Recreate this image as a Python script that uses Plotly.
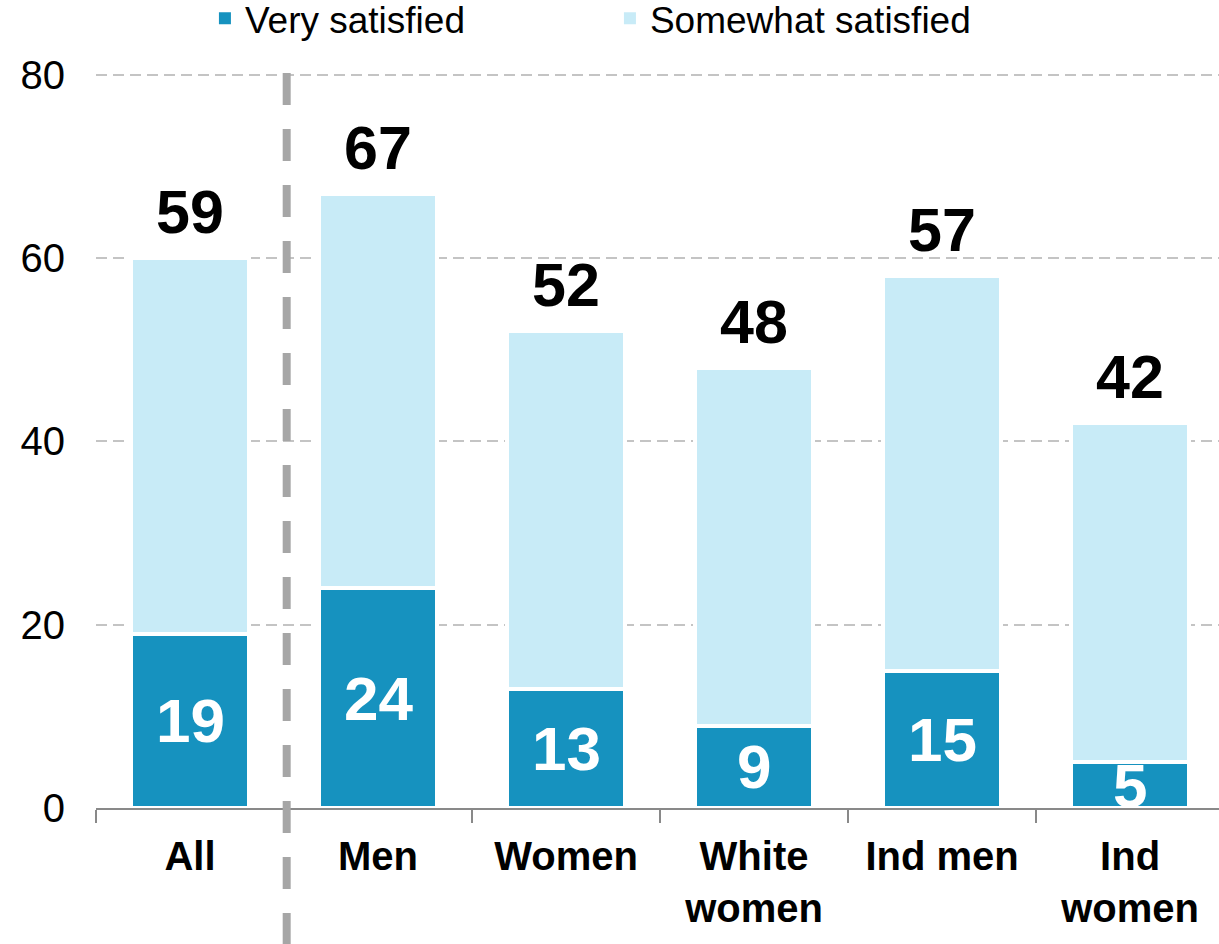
import plotly.graph_objects as go

categories = ["All", "Men", "Women", "White<br>women", "Ind men", "Ind<br>women"]
very_satisfied = [19, 24, 13, 9, 15, 5]
somewhat_satisfied = [41, 43, 39, 39, 43, 37]
totals = [59, 67, 52, 48, 57, 42]  # published (rounded) totals shown above bars

DARK = "#1692BF"
LIGHT = "#C8EBF7"
FONT = "Liberation Sans, Arial, sans-serif"

fig = go.Figure()
fig.add_trace(go.Bar(
    x=categories, y=very_satisfied, name="Very satisfied", showlegend=False,
    marker=dict(color=DARK, line=dict(color="white", width=4)),
    width=0.63,
))
fig.add_trace(go.Bar(
    x=categories, y=somewhat_satisfied, name="Somewhat satisfied", showlegend=False,
    marker=dict(color=LIGHT, line=dict(color="white", width=4)),
    width=0.63,
))
# legend entries (plain squares)
for nm, col in [("Very satisfied", DARK), ("Somewhat satisfied", LIGHT)]:
    fig.add_trace(go.Bar(x=[None], y=[None], name=nm, showlegend=True,
                         marker=dict(color=col, line=dict(width=0))))

for c, v, s, t in zip(categories, very_satisfied, somewhat_satisfied, totals):
    fig.add_annotation(x=c, y=v / 2, text=f"<b>{v}</b>", showarrow=False,
                       font=dict(family=FONT, size=62, color="white"),
                       xanchor="center", yanchor="middle")
    fig.add_annotation(x=c, y=v + s, text=f"<b>{t}</b>", showarrow=False,
                       font=dict(family=FONT, size=61, color="black"),
                       xanchor="center", yanchor="bottom", yshift=10)

# dashed separator between "All" and the rest
fig.add_shape(type="line", xref="paper", yref="paper",
              x0=0.1698, x1=0.1698, y0=1.0, y1=-0.2,
              line=dict(color="#A6A6A6", width=8, dash="32px,24px"))

fig.update_layout(
    barmode="stack",
    width=1219, height=944,
    margin=dict(l=96, r=0, t=73, b=136, autoexpand=False),
    plot_bgcolor="white", paper_bgcolor="white",
    font=dict(family=FONT, color="black"),
    showlegend=True,
    legend=dict(orientation="h", x=0.097, xanchor="left", y=1.116, yanchor="top",
                font=dict(size=37, family=FONT), entrywidth=360,
                traceorder="normal", bgcolor="rgba(0,0,0,0)"),
    xaxis=dict(range=[-0.5, 5.473], showline=True, linecolor="#898989", linewidth=2,
               ticks="outside", ticklen=13, tickwidth=2, tickcolor="#898989",
               tickson="boundaries", showgrid=False, ticklabelstandoff=12,
               tickfont=dict(size=40, family=FONT, color="black", weight="bold")),
    yaxis=dict(range=[0, 80.2], tickvals=[0, 20, 40, 60, 80], showline=False,
               showgrid=True, gridcolor="#C4C4C4", gridwidth=2, griddash="11px,6px",
               zeroline=False, ticks="", ticklabelstandoff=30,
               tickfont=dict(size=40, family=FONT, color="black")),
)

fig.write_html("out.html", config={"displayModeBar": False},
               post_script="document.body.style.margin='0';document.body.style.overflow='hidden';")
